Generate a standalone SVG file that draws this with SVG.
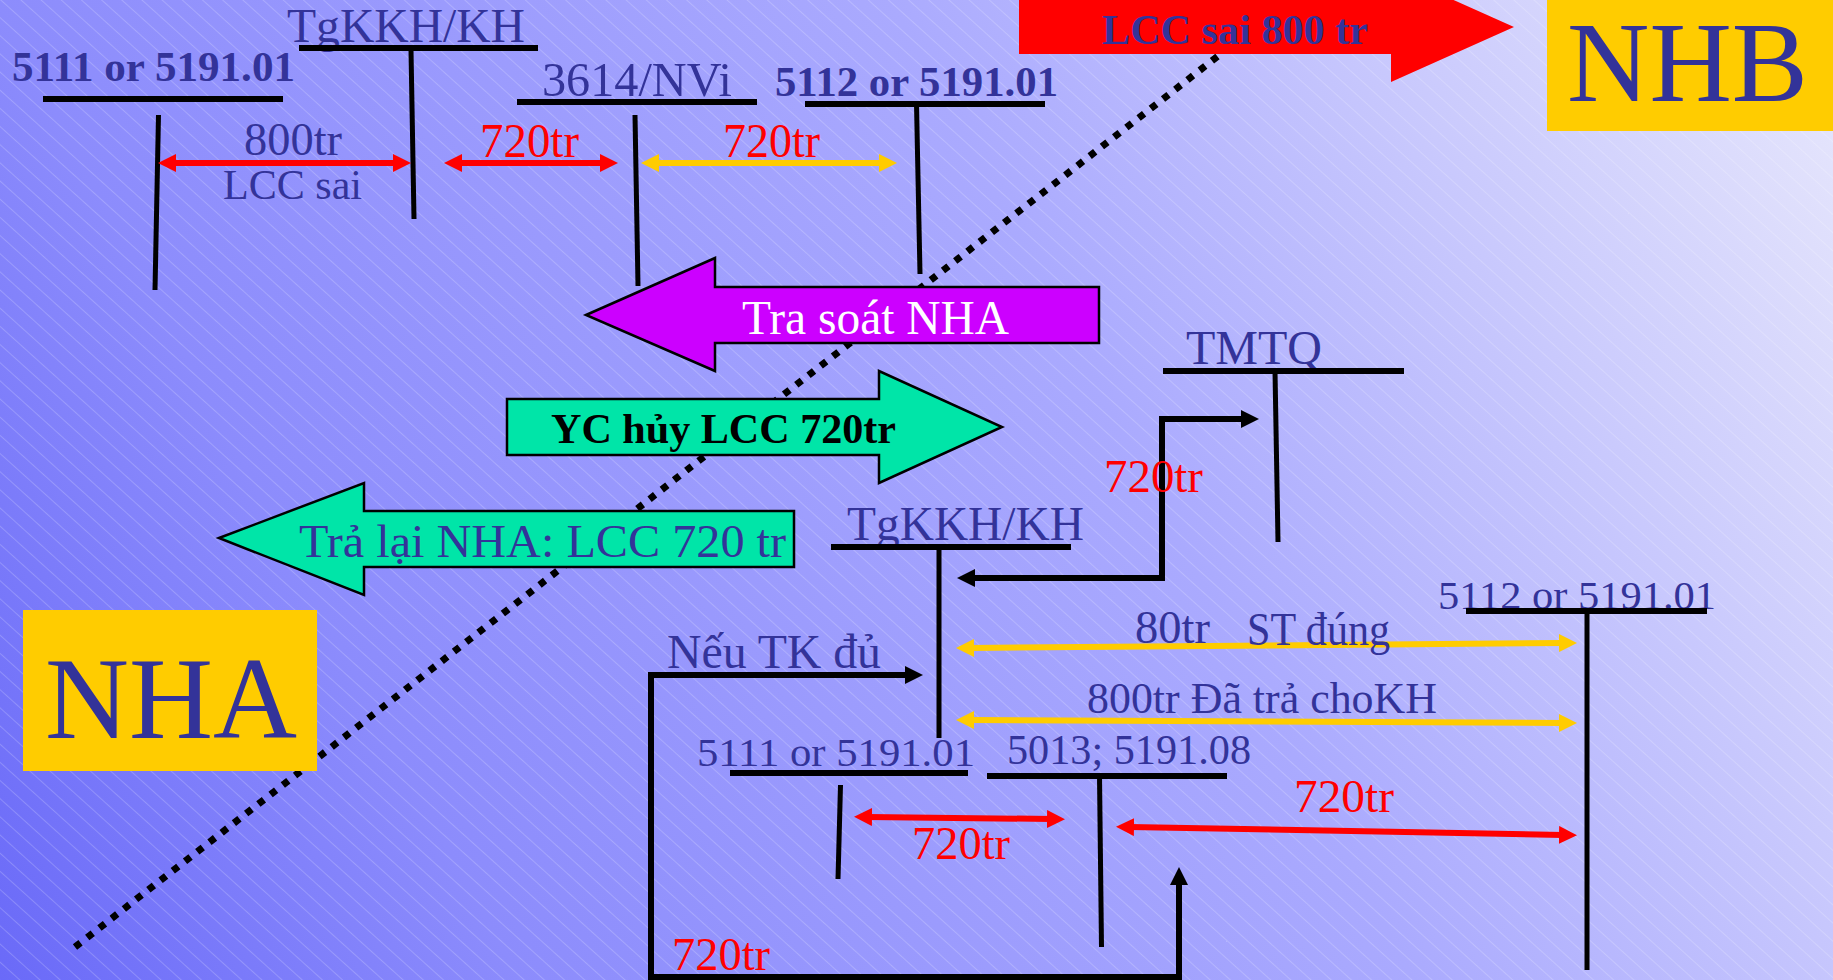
<svg xmlns="http://www.w3.org/2000/svg" width="1833" height="980" viewBox="0 0 1833 980">
<style>
text{font-family:"Liberation Serif","Times New Roman",serif;}
.b{fill:#333399;}
.r{fill:#ff0000;}
.bold{font-weight:bold;}
.acct{stroke:#000;stroke-width:6;fill:none;}
.stem{stroke:#000;stroke-width:5;fill:none;}
.red{stroke:#ff0000;stroke-width:6;fill:none;marker-start:url(#mR);marker-end:url(#mR);}
.yel{stroke:#ffcc00;stroke-width:6;fill:none;marker-start:url(#mY);marker-end:url(#mY);}
.blk{stroke:#000;stroke-width:6;fill:none;stroke-linejoin:miter;marker-start:url(#mK);marker-end:url(#mK);}
.blockarrow{stroke:#000;stroke-width:2.5;}
</style>
<defs>
<linearGradient id="bg" gradientUnits="userSpaceOnUse" x1="0" y1="980" x2="1833" y2="0">
<stop offset="0" stop-color="#6a6af8"/>
<stop offset="0.22" stop-color="#8c8cfc"/>
<stop offset="0.6" stop-color="#aaaafe"/>
<stop offset="1" stop-color="#e8e8fc"/>
</linearGradient>
<pattern id="hatch" patternUnits="userSpaceOnUse" width="13.5" height="13.5" patternTransform="rotate(-48)">
<line x1="0.5" y1="0" x2="0.5" y2="13.5" stroke="#ffffff" stroke-width="1" stroke-opacity="0.2"/>
</pattern>
<marker id="mR" viewBox="0 0 18 18" refX="4" refY="9" markerWidth="18" markerHeight="18" markerUnits="userSpaceOnUse" orient="auto-start-reverse"><path d="M0,0 L18,9 L0,18 z" fill="#ff0000"/></marker>
<marker id="mY" viewBox="0 0 18 18" refX="4" refY="9" markerWidth="18" markerHeight="18" markerUnits="userSpaceOnUse" orient="auto-start-reverse"><path d="M0,0 L18,9 L0,18 z" fill="#ffcc00"/></marker>
<marker id="mK" viewBox="0 0 18 18" refX="4" refY="9" markerWidth="18" markerHeight="18" markerUnits="userSpaceOnUse" orient="auto-start-reverse"><path d="M0,0 L18,9 L0,18 z" fill="#000"/></marker>
</defs>

<g id="background">
<rect x="0" y="0" width="1833" height="980" fill="url(#bg)"/>
<rect x="0" y="0" width="1833" height="980" fill="url(#hatch)"/>
</g>

<g id="divider">
<line x1="75" y1="947" x2="1222" y2="53" stroke="#000" stroke-width="7" stroke-dasharray="7 8.5"/>
</g>

<g id="box-NHB">
<rect x="1547" y="0" width="286" height="131" fill="#ffcc00"/>
<text class="b" x="1567" y="101" font-size="114" textLength="241" lengthAdjust="spacingAndGlyphs">NHB</text>
</g>

<g id="box-NHA">
<rect x="23" y="610" width="294" height="161" fill="#ffcc00"/>
<text class="b" x="45" y="738" font-size="116" textLength="252" lengthAdjust="spacingAndGlyphs">NHA</text>
</g>

<g id="arrow-lcc-sai">
<polygon points="1019,0 1391,0 1391,-28 1514,27 1391,82 1391,54 1019,54" fill="#ff0000"/>
<text class="b bold" x="1102" y="44" font-size="43" textLength="266" lengthAdjust="spacingAndGlyphs">LCC sai 800 tr</text>
</g>

<g id="arrow-tra-soat">
<polygon class="blockarrow" points="586,315 715,258 715,287 1099,287 1099,343 715,343 715,371" fill="#cc00ff"/>
<text x="742" y="334" font-size="48" fill="#ffffff" textLength="267" lengthAdjust="spacingAndGlyphs">Tra soát NHA</text>
</g>

<g id="arrow-yc-huy">
<polygon class="blockarrow" points="507,399 879,399 879,371 1002,427 879,483 879,455 507,455" fill="#00e5a8"/>
<text class="bold" x="551" y="443" font-size="43" fill="#000" textLength="345" lengthAdjust="spacingAndGlyphs">YC hủy LCC 720tr</text>
</g>

<g id="arrow-tra-lai">
<polygon class="blockarrow" points="219,538 364,483 364,511 794,511 794,567 364,567 364,595" fill="#00e5a8"/>
<text class="b" x="299" y="557" font-size="46" textLength="487" lengthAdjust="spacingAndGlyphs">Trả lại NHA: LCC 720 tr</text>
</g>

<g id="acct-5111-top">
<text class="b bold" x="12" y="81" font-size="42" textLength="283" lengthAdjust="spacingAndGlyphs">5111 or 5191.01</text>
<line class="acct" x1="43" y1="99" x2="283" y2="99"/>
<line class="stem" x1="158.5" y1="115" x2="155" y2="290"/>
</g>

<g id="acct-tgkkh-top">
<text class="b" x="287" y="42" font-size="48" textLength="238" lengthAdjust="spacingAndGlyphs">TgKKH/KH</text>
<line class="acct" x1="299" y1="48" x2="538" y2="48"/>
<line class="stem" x1="411" y1="50" x2="414" y2="219"/>
</g>

<g id="acct-3614">
<text class="b" x="542" y="96" font-size="48" textLength="190" lengthAdjust="spacingAndGlyphs">3614/NVi</text>
<line class="acct" x1="517" y1="102" x2="757" y2="102"/>
<line class="stem" x1="635" y1="115" x2="638" y2="286"/>
</g>

<g id="acct-5112-top">
<text class="b bold" x="775" y="96" font-size="43" textLength="283" lengthAdjust="spacingAndGlyphs">5112 or 5191.01</text>
<line class="acct" x1="805" y1="104" x2="1045" y2="104"/>
<line class="stem" x1="916.5" y1="104" x2="920" y2="274"/>
</g>

<g id="acct-tmtq">
<text class="b" x="1186" y="364" font-size="48" textLength="136" lengthAdjust="spacingAndGlyphs">TMTQ</text>
<line class="acct" x1="1163" y1="371" x2="1404" y2="371"/>
<line class="stem" x1="1275" y1="371" x2="1278" y2="542"/>
</g>

<g id="acct-tgkkh-mid">
<text class="b" x="847" y="540" font-size="48" textLength="237" lengthAdjust="spacingAndGlyphs">TgKKH/KH</text>
<line class="acct" x1="831" y1="547" x2="1071" y2="547"/>
<line class="stem" x1="939" y1="547" x2="939" y2="738"/>
</g>

<g id="acct-5112-bottom">
<text class="b" x="1438" y="609" font-size="40" textLength="278" lengthAdjust="spacingAndGlyphs">5112 or 5191.01</text>
<line class="acct" x1="1466" y1="611" x2="1707" y2="611"/>
<line class="stem" x1="1587" y1="611" x2="1587" y2="970"/>
</g>

<g id="acct-5111-bottom">
<text class="b" x="697" y="766" font-size="41" textLength="278" lengthAdjust="spacingAndGlyphs">5111 or 5191.01</text>
<line class="acct" x1="730" y1="773" x2="968" y2="773"/>
<line class="stem" x1="840.5" y1="785" x2="838" y2="879"/>
</g>

<g id="acct-5013">
<text class="b" x="1007" y="764" font-size="42" textLength="244" lengthAdjust="spacingAndGlyphs">5013; 5191.08</text>
<line class="acct" x1="987" y1="776" x2="1227" y2="776"/>
<line class="stem" x1="1099.5" y1="776" x2="1101.5" y2="947"/>
</g>

<g id="connectors">
<line class="red" x1="172" y1="163" x2="397" y2="163"/>
<line class="red" x1="458" y1="163" x2="604" y2="163"/>
<line class="yel" x1="655" y1="163" x2="883" y2="163"/>
<line class="yel" x1="970" y1="648" x2="1563" y2="643"/>
<line class="yel" x1="970" y1="720" x2="1563" y2="723"/>
<line class="red" x1="868" y1="817" x2="1051" y2="819" stroke-width="7"/>
<line class="red" x1="1130" y1="827" x2="1563" y2="835" stroke-width="7"/>
<path class="blk" d="M971,578 L1162,578 L1162,419 L1245,419"/>
<path class="blk" d="M909,675 L651,675 L651,977 L1179,977 L1179,881"/>
</g>

<g id="labels">
<text class="b" x="244" y="155" font-size="46" textLength="98" lengthAdjust="spacingAndGlyphs">800tr</text>
<text class="b" x="223" y="199" font-size="42" textLength="139" lengthAdjust="spacingAndGlyphs">LCC sai</text>
<text class="r" x="480" y="157" font-size="48" textLength="99" lengthAdjust="spacingAndGlyphs">720tr</text>
<text class="r" x="723" y="157" font-size="48" textLength="97" lengthAdjust="spacingAndGlyphs">720tr</text>
<text class="r" x="1104" y="492" font-size="46" textLength="99" lengthAdjust="spacingAndGlyphs">720tr</text>
<text class="b" font-size="46"><tspan x="1135" y="643" textLength="75" lengthAdjust="spacingAndGlyphs">80tr</tspan><tspan x="1247" y="645" textLength="143" lengthAdjust="spacingAndGlyphs">ST đúng</tspan></text>
<text class="b" x="1087" y="713" font-size="44" textLength="350" lengthAdjust="spacingAndGlyphs">800tr Đã trả choKH</text>
<text class="b" x="667" y="668" font-size="48" textLength="214" lengthAdjust="spacingAndGlyphs">Nếu TK đủ</text>
<text class="r" x="912" y="859" font-size="46" textLength="98" lengthAdjust="spacingAndGlyphs">720tr</text>
<text class="r" x="1294" y="812" font-size="46" textLength="100" lengthAdjust="spacingAndGlyphs">720tr</text>
<text class="r" x="672" y="970" font-size="46" textLength="98" lengthAdjust="spacingAndGlyphs">720tr</text>
</g>
</svg>
